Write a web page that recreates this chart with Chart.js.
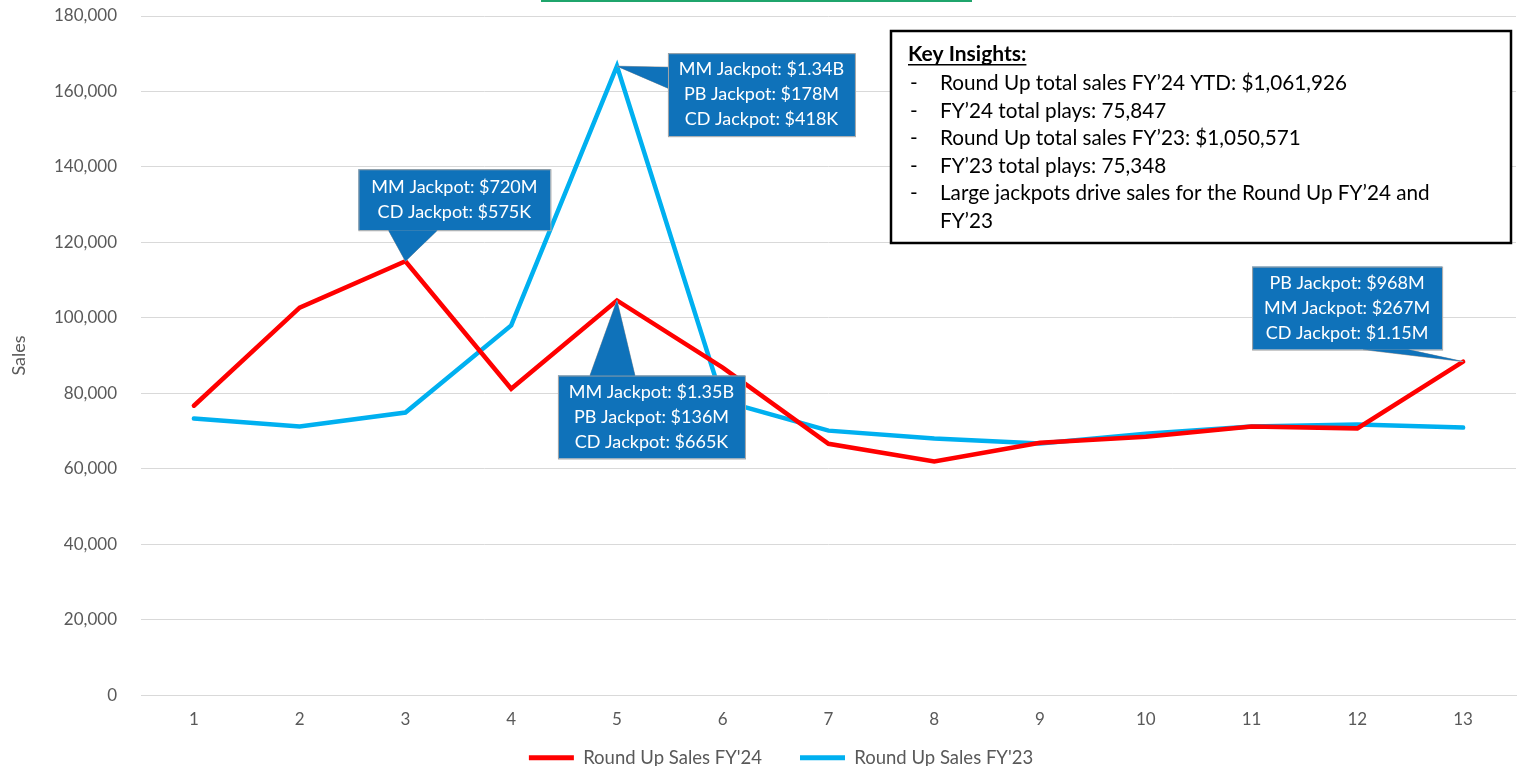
<!DOCTYPE html>
<html>
<head>
<meta charset="utf-8">
<script src="https://cdn.jsdelivr.net/npm/chart.js@4.4.0/dist/chart.umd.min.js"></script>
<style>
    html, body { margin: 0; padding: 0; background: #fff; overflow: hidden; }
</style>
</head>
<body>
<canvas id="roundUpSales" width="1521" height="766"></canvas>
<script>
const weeks = ["1", "2", "3", "4", "5", "6", "7", "8", "9", "10", "11", "12", "13"];
const salesFY24 = [76700, 102700, 115000, 81200, 104600, 86800, 66600, 61900, 66900, 68500, 71200, 70700, 88400];
const salesFY23 = [73300, 71200, 74900, 98000, 166700, 78000, 70100, 68000, 66700, 69300, 71200, 71700, 70900];
const yTicks = [0, 20000, 40000, 60000, 80000, 100000, 120000, 140000, 160000, 180000];
const seriesNames = ["Round Up Sales FY'24", "Round Up Sales FY'23"];

const insightTitle = "Key Insights:";
const insightLines = [
    "Round Up total sales FY\u201924 YTD: $1,061,926",
    "FY\u201924 total plays: 75,847",
    "Round Up total sales FY\u201923: $1,050,571",
    "FY\u201923 total plays: 75,348",
    "Large jackpots drive sales for the Round Up FY\u201924 and",
    "FY\u201923"
];

// jackpot notes, tied to a point (dataset, index)
const jackpotNotes = [
    { ds: 0, idx: 2, lines: ["MM Jackpot: $720M", "CD Jackpot: $575K"] },
    { ds: 1, idx: 4, lines: ["MM Jackpot: $1.34B", "PB Jackpot: $178M", "CD Jackpot: $418K"] },
    { ds: 0, idx: 4, lines: ["MM Jackpot: $1.35B", "PB Jackpot: $136M", "CD Jackpot: $665K"] },
    { ds: 0, idx: 12, lines: ["PB Jackpot: $968M", "MM Jackpot: $267M", "CD Jackpot: $1.15M"] }
];
// box placement relative to the point: x, y, w, h, and the pointer base (two points)
const noteBoxes = [
    { x: -47, y: -92, w: 192, h: 61, base: [[-17, -31], [32, -31]] },
    { x: 51, y: -13, w: 187, h: 83, base: [[51, 1], [51, 22]] },
    { x: -59, y: 75, w: 187, h: 83, base: [[-27, 75], [18, 75]] },
    { x: -211, y: -95, w: 190, h: 83, base: [[-100, -12], [-55, -12]] }
];

const FONT = "Lato, 'Open Sans', sans-serif";
const GREY = "#595959";

const notesPlugin = {
    id: "notes",
    afterLayout(chart) {
        // pull the legend up into its own padding and nudge it right
        const lg = chart.legend;
        lg.top -= 33;
        lg.bottom -= 33;
        lg.left += 23;
        lg.right += 23;
    },
    afterDraw(chart) {
        const ctx = chart.ctx;
        ctx.save();
        // green edge of the slide title box
        ctx.fillStyle = "#1fa56c";
        ctx.fillRect(541, 0, 431, 2);

        jackpotNotes.forEach((n, i) => {
            const pt = chart.getDatasetMeta(n.ds).data[n.idx];
            const b = noteBoxes[i];
            const px = pt.x, py = pt.y;
            const pointer = () => {
                ctx.beginPath();
                ctx.moveTo(px, py);
                ctx.lineTo(px + b.base[0][0], py + b.base[0][1]);
                ctx.lineTo(px + b.base[1][0], py + b.base[1][1]);
                ctx.closePath();
            };
            ctx.fillStyle = "#0f72ba";
            ctx.strokeStyle = "#a6a6a6";
            ctx.lineWidth = 1;
            pointer();
            ctx.fill();
            ctx.stroke();
            ctx.fillRect(px + b.x, py + b.y, b.w, b.h);
            ctx.strokeRect(px + b.x + 0.5, py + b.y + 0.5, b.w, b.h);
            pointer();
            ctx.fill();
            ctx.fillStyle = "#ffffff";
            ctx.font = "18px " + FONT;
            ctx.textAlign = "center";
            ctx.textBaseline = "middle";
            const lh = 25;
            const cy = py + b.y + b.h / 2 - (n.lines.length - 1) * lh / 2;
            n.lines.forEach((t, k) => ctx.fillText(t, px + b.x + b.w / 2, cy + k * lh));
        });

        // key insights box
        const bx = 891, by = 31, bw = 620, bh = 212;
        ctx.fillStyle = "#ffffff";
        ctx.fillRect(bx, by, bw, bh);
        ctx.strokeStyle = "#000000";
        ctx.lineWidth = 2.5;
        ctx.strokeRect(bx, by, bw, bh);
        ctx.fillStyle = "#000000";
        ctx.textAlign = "left";
        ctx.textBaseline = "alphabetic";
        ctx.font = "bold 21px " + FONT;
        ctx.fillText(insightTitle, bx + 17, by + 30);
        const tw = ctx.measureText(insightTitle).width;
        ctx.fillRect(bx + 17, by + 33, tw, 1.5);
        ctx.font = "20.7px " + FONT;
        insightLines.forEach((t, k) => {
            const y = by + 59 + k * 27.5;
            if (k < 5) ctx.fillText("-", bx + 19, y);
            ctx.fillText(t, bx + 49, y);
        });
        ctx.restore();
    }
};

new Chart(document.getElementById("roundUpSales"), {
    type: "line",
    data: {
        labels: weeks,
        datasets: [
            { label: seriesNames[0], data: salesFY24, borderColor: "#ff0000", backgroundColor: "#ff0000" },
            { label: seriesNames[1], data: salesFY23, borderColor: "#00b0f0", backgroundColor: "#00b0f0" }
        ]
    },
    options: {
        responsive: false,
        animation: false,
        devicePixelRatio: 1,
        layout: { padding: { left: 0, right: 5, top: 16, bottom: -44 } },
        elements: {
            line: { borderWidth: 4.5, tension: 0, borderCapStyle: "round", borderJoinStyle: "miter" },
            point: { radius: 0, hoverRadius: 0 }
        },
        scales: {
            x: {
                offset: true,
                grid: { display: false, drawTicks: false },
                border: { color: "#d9d9d9" },
                ticks: { color: GREY, font: { family: FONT, size: 17 }, padding: 14 }
            },
            y: {
                min: 0,
                max: 180000,
                afterBuildTicks: (s) => { s.ticks = yTicks.map(v => ({ value: v })); },
                afterFit: (s) => { s.width = 141; s.paddingTop = 0; s.paddingBottom = 0; },
                grid: { color: "#d9d9d9", drawTicks: false },
                border: { display: false },
                ticks: {
                    color: GREY,
                    padding: 24,
                    font: { family: FONT, size: 17 },
                    callback: (v) => v.toLocaleString("en-US")
                },
                title: { display: true, text: "Sales", color: GREY, padding: { top: 8, bottom: 4 }, font: { family: FONT, size: 18 } }
            }
        },
        plugins: {
            legend: {
                position: "bottom",
                labels: {
                    color: GREY,
                    font: { family: FONT, size: 18.5 },
                    boxWidth: 45,
                    boxHeight: 5,
                    padding: 38,
                    generateLabels: (chart) =>
                        Chart.defaults.plugins.legend.labels.generateLabels(chart).map(l => ({ ...l, lineWidth: 0 }))
                }
            },
            tooltip: { enabled: false }
        }
    },
    plugins: [notesPlugin]
});
</script>
</body>
</html>
